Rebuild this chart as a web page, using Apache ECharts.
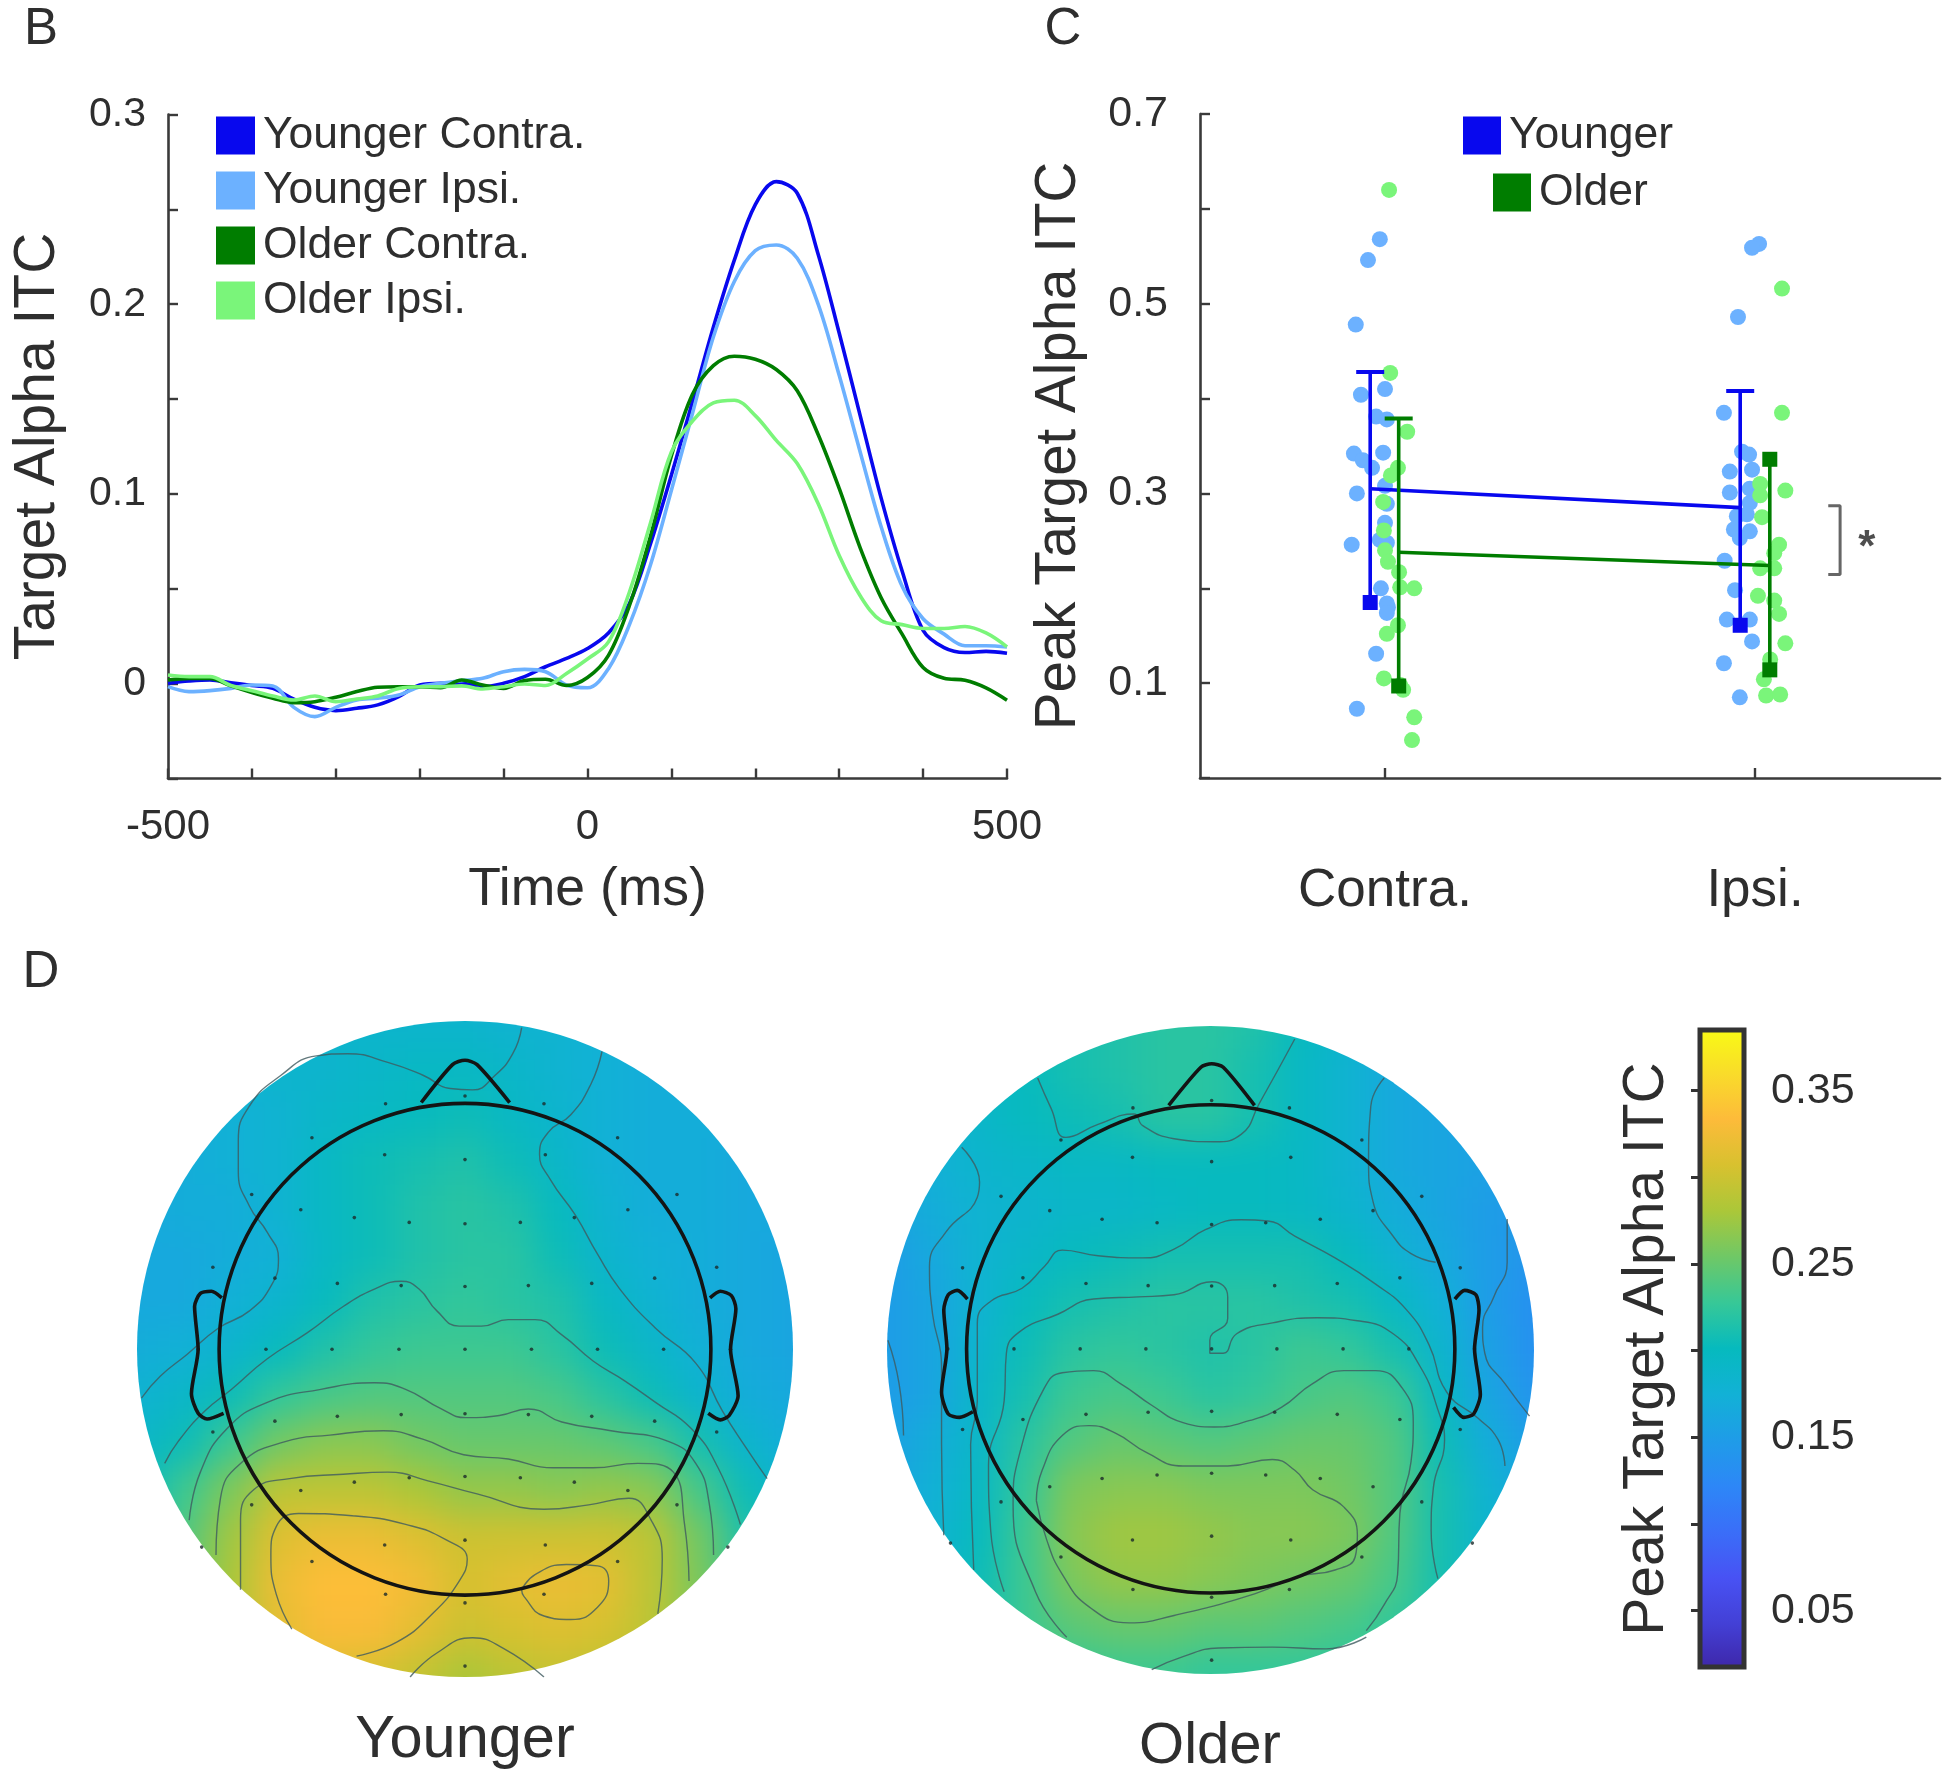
<!DOCTYPE html>
<html><head><meta charset="utf-8">
<script src="https://cdn.jsdelivr.net/npm/echarts@6/dist/echarts.min.js"></script>
<style>
html,body{margin:0;padding:0;background:#fff;width:1950px;height:1786px;overflow:hidden}
#main{position:absolute;left:0;top:0;width:1950px;height:1786px;z-index:5;filter:blur(0.7px)}
.disc{position:absolute;border-radius:50%;overflow:hidden;z-index:1}
.field{position:absolute;filter:blur(17px)}
</style></head><body>
<div class="disc" id="discY" style="left:137px;top:1021px;width:656px;height:656px"><div class="field" id="fieldY"></div></div>
<div class="disc" id="discO" style="left:887px;top:1026px;width:647px;height:648px"><div class="field" id="fieldO"></div></div>
<div id="main"></div>
<script>
const timeMs=[-500,-475,-450,-425,-400,-375,-350,-325,-300,-275,-250,-225,-200,-175,-150,-125,-100,-75,-50,-25,0,25,50,75,100,125,150,175,200,225,250,275,300,325,350,375,400,425,450,475,500];
const youngerContra=[.0002,.0014,.002,.0005,-.001,-.0025,-.0082,-.0125,-.0142,-.013,-.0112,-.0068,-.0007,.0002,.0002,-.0016,.0002,.0037,.0089,.0133,.0185,.0267,.0422,.0736,.110,.1484,.1878,.2232,.2525,.2646,.2585,.2262,.1848,.1413,.0978,.0594,.0281,.019,.0164,.017,.016];
const youngerIpsi=[-.0016,-.0042,-.0037,-.0025,-.0007,-.0012,-.0125,-.0174,-.0125,-.0086,-.0077,-.006,-.0016,.0002,.0016,.0028,.0063,.0075,.0063,-.0007,-.0022,.0079,.0311,.0625,.1019,.1423,.1827,.212,.2282,.2312,.2242,.1999,.1625,.1221,.0827,.0513,.0342,.0261,.02,.02,.0194];
const olderContra=[.0019,.0028,.0028,-.0012,-.0047,-.0077,-.01,-.0095,-.0072,-.0042,-.0019,-.0016,-.0016,-.0021,.0019,-.0007,-.0025,.0016,.0023,-.001,.0032,.0149,.0412,.0776,.1201,.1524,.1676,.1726,.171,.1656,.1544,.1312,.1029,.0716,.0453,.0261,.0085,.0028,.0018,-.0022,-.0087];
const olderIpsi=[.0046,.0037,.0037,-.001,-.0037,-.0065,-.0086,-.0065,-.0095,-.0081,-.0065,-.0025,-.0016,-.0016,-.0012,-.0028,-.0016,-.0002,-.001,.0054,.013,.022,.0483,.0846,.1221,.1383,.148,.1494,.1413,.1282,.116,.0948,.0675,.0463,.0331,.0311,.0291,.0291,.0301,.0267,.0194];

const dotsYoungerContra=[[.986,.568],[.954,.546],[.921,.478],[.935,.404],[1,.410],[.976,.381],[1.005,.378],[.916,.342],[.94,.335],[.995,.343],[.965,.327],[.924,.3],[1,.308],[1.005,.289],[1,.269],[.91,.246],[.986,.251],[1.005,.248],[.989,.2],[1.005,.184],[1.008,.18],[1.005,.174],[.976,.131],[.924,.073]];
const dotsOlderContra=[[1.011,.62],[1.014,.427],[1.06,.365],[1.035,.327],[1.016,.319],[.995,.291],[.997,.261],[1,.24],[1.008,.228],[1.038,.217],[1.041,.201],[1.079,.2],[1.035,.161],[1.005,.152],[.997,.105],[1.049,.093],[1.041,.098],[1.079,.064],[1.073,.04]];
const dotsYoungerIpsi=[[2.011,.563],[1.992,.559],[1.954,.486],[1.916,.385],[1.965,.344],[1.984,.341],[1.932,.323],[1.992,.325],[1.932,.301],[1.986,.305],[1.986,.29],[1.951,.276],[1.978,.278],[1.943,.262],[1.986,.26],[1.959,.253],[1.918,.229],[1.946,.198],[1.924,.167],[1.986,.167],[1.992,.144],[1.916,.121],[1.959,.085]];
const dotsOlderIpsi=[[2.073,.516],[2.073,.385],[2.014,.31],[2.082,.303],[2.014,.298],[2.019,.275],[2.065,.246],[2.052,.237],[2.014,.221],[2.052,.221],[2.008,.192],[2.052,.187],[2.065,.173],[2.082,.142],[2.041,.125],[2.024,.104],[2.03,.087],[2.068,.088]];
const meanYounger=[[.96,.305],[1.96,.285]];
const meanOlder=[[1.037,.238],[2.04,.224]];
const barYoungerContra=[[.96,.428],[.96,.185]];
const barYoungerIpsi=[[1.96,.408],[1.96,.161]];
const barOlderContra=[[1.037,.379],[1.037,.097]];
const barOlderIpsi=[[2.04,.336],[2.04,.114]];
const bracket=[[2.198,.287],[2.23,.287],[2.23,.2145],[2.198,.2145]];
const starPoint=[[2.302,.249]];
const conditionLabels=['Contra.','Ipsi.'];

const fieldYounger=[
[17,17,18,18,18.5,18.5,18.5,18.5,18,18,17.5,17,17,17,17],
[17,17,18,18.5,18.5,19,19.5,19.5,19,18,17.5,17,17,17,17],
[17,17,17.5,18,19,19.5,20,20.5,19.5,18.5,17.5,17,17,17,16.5],
[16.5,17,17.5,18,19.5,20.5,21,21.5,20.5,19,17.5,17,17,16.5,16.5],
[16.5,17,17,18,19.5,20.5,21.5,22,21.5,20,18,17,17,16.5,16.5],
[16.5,16.5,17,17.5,19.5,20.5,21.5,22,22,20.5,18.5,17.5,17,16.5,16],
[16.5,16.5,17.5,18.5,20,21.5,22,22.5,22,21.5,19.5,18,17,16.5,16],
[17,17.5,18.5,20,21.5,22.5,23,23,23,22,20.5,19,17.5,16.5,16],
[18,19,20.5,22.5,23.5,24,24,24,24,23.5,22,20.5,18.5,17,16.5],
[19,20.5,23,25.5,26.5,26.5,25.5,25,25,25,24.5,23.5,21,18.5,17],
[20,23,26,29,29,29,28,27,27,26.5,27,26.5,23.5,20.5,18],
[20.5,24,27.5,31,32,32,31,30,30,30,30,29,25.5,21.5,19],
[21,24.5,28,32,33.5,33.5,32.5,30.5,31.5,32,31.5,29,26,22,20],
[21,24.5,28,31.5,33,33,31.5,30,30.5,31,30.5,29,26,22,20],
[21,24,28,30,31,30.5,29.5,28,29,29.5,29,28,25,22,20]];
const fieldOlder=[
[18,18,19,20,21,21.5,22,22,21.5,20,18.5,17,16.5,16,16],
[18,18,19,20,21,21.5,22,22,21,19.5,18,16.5,16,16,15.5],
[17.5,18,19,20,20.5,21,22,22,21,19.5,18,16.5,16,15.5,15],
[16.5,17.5,18.5,19,19.5,19.5,20,20,20,19.5,18,16.5,16,15.5,15],
[16,17,18,18.5,19,19,19.5,20,20,19.5,18.5,17,16,15,14.5],
[15,16.5,18,19,20,20.5,21,21,21,21,20,18,16.5,15,14],
[15,16,18,20,21,21.5,22,22,22,21.5,21,19.5,17.5,15,13.5],
[15,16,18.5,20.5,22,22.5,22,21.5,22,23,22.5,21,18.5,15.5,13.5],
[15,16,19,21,23,23.5,23,22,22.5,23.5,24,23,19.5,16,14],
[15.5,17,19,22,24,25,24.5,24,24.5,25,25,24,20.5,17,15],
[16,17.5,19.5,22.5,26,26.5,26.5,26,26,26,25.5,24,21,18,16],
[16.5,18,20,23,26.5,27.5,27.5,27,26.5,26.5,26,24,21,18.5,17],
[17,18.5,20.5,23,26,27,27,26.5,26,25.5,25,23.5,21,18.5,17],
[17,19,21,23,24.5,25,25,24.5,24.5,24,23.5,22.5,21,19,17],
[17,19,21,22,22.5,23,23,22.5,22.5,22.5,22,21.5,20.5,19,17]];

const contoursYounger=[
[[900,40],[880,100],[840,150],[790,183],[740,180],[680,150],[600,120],[510,100],[440,105],[360,150],[290,220],[265,300],[265,370],[290,450],[330,510],[355,570],[340,630],[290,690],[220,730],[150,790],[90,840],[48,890]],
[[1080,95],[1055,170],[1010,240],[960,280],[940,330],[965,390],[1020,470],[1070,560],[1120,640],[1200,730],[1290,810],[1350,920],[1400,1000],[1450,1075]],
[[100,1040],[130,990],[190,920],[250,870],[330,800],[420,740],[500,680],[570,640],[630,622],[670,640],[710,690],[760,725],[810,725],[870,710],[930,710],[990,745],[1060,805],[1130,850],[1200,900],[1280,960],[1340,1050],[1390,1180]],
[[155,1170],[180,1060],[240,960],[330,900],[450,870],[570,855],[640,870],[720,915],[775,935],[850,930],[915,915],[990,945],[1100,965],[1230,990],[1290,1040],[1320,1130],[1330,1250]],
[[215,1250],[225,1120],[270,1040],[370,990],[470,975],[590,965],[680,985],[770,1020],[870,1030],[970,1050],[1060,1050],[1160,1040],[1240,1060],[1265,1180],[1275,1310]],
[[270,1330],[270,1170],[300,1100],[380,1075],[500,1065],[600,1060],[690,1080],[800,1110],[950,1145],[1050,1135],[1140,1120],[1190,1170],[1215,1260],[1205,1385]],
[[530,1482],[620,1450],[700,1385],[760,1310],[778,1260],[730,1215],[640,1180],[520,1160],[400,1155],[350,1185],[338,1250],[350,1340],[385,1420]],
[[900,1330],[930,1295],[1000,1272],[1070,1275],[1095,1310],[1070,1370],[1010,1398],[950,1390],[905,1345],[900,1330]],
[[650,1530],[710,1475],[790,1440],[860,1465],[950,1530]]];
const contoursOlder=[
[[375,155],[405,225],[438,292],[510,262],[590,238],[610,265],[680,295],[770,302],[830,285],[870,215],[950,65]],
[[205,315],[245,395],[240,430],[170,510],[133,590],[140,700],[160,820],[160,1000],[165,1210]],
[[40,760],[65,860],[75,980]],
[[1150,155],[1120,220],[1115,350],[1125,440],[1170,520],[1210,560],[1265,580]],
[[1425,480],[1425,580],[1395,660],[1370,730],[1375,790],[1420,860],[1475,935]],
[[232,1290],[225,1000],[240,900],[240,720],[270,670],[340,640],[390,590],[430,552],[510,565],[610,570],[680,550],[750,505],[830,482],[890,485],[950,520],[1040,570],[1130,630],[1200,690],[1250,770],[1290,880],[1360,940],[1405,990],[1420,1050]],
[[300,1340],[270,1200],[265,1050],[300,900],[305,790],[335,740],[420,700],[500,665],[600,660],[680,655],[765,625],[800,660],[800,710],[760,760],[760,790],[790,790],[820,745],[900,720],[1000,708],[1090,715],[1170,745],[1230,820],[1270,920],[1285,990],[1260,1100],[1255,1200],[1270,1310]],
[[440,1445],[370,1340],[320,1140],[335,1020],[390,870],[430,835],[500,830],[560,860],[630,910],[700,950],[770,960],[850,945],[920,915],[990,860],[1060,830],[1130,830],[1190,870],[1215,950],[1210,1040],[1185,1160],[1180,1300],[1150,1370],[1110,1430]],
[[372,1130],[385,1060],[430,980],[490,957],[550,975],[620,1020],[700,1050],[800,1050],[900,1035],[950,1060],[990,1105],[1060,1145],[1090,1210],[1085,1260],[1040,1290],[960,1305],[860,1345],[680,1395],[580,1412],[490,1375],[430,1300],[395,1220],[372,1130]],
[[630,1520],[700,1490],[780,1470],[900,1468],[1020,1472],[1110,1445]]];
const electrodesYounger=[[595,215],[773,197],[950,215],[430,293],[1115,293],[593,332],[773,343],[953,332],[295,423],[1248,423],[405,458],[525,476],[648,487],[773,490],[897,487],[1018,476],[1138,458],[208,590],[1337,590],[347,615],[487,627],[630,632],[773,634],[915,632],[1057,627],[1198,615],[175,778],[327,778],[475,778],[625,778],[773,778],[922,778],[1070,778],[1218,778],[1368,778],[347,943],[487,932],[630,928],[773,926],[915,928],[1057,932],[1198,943],[208,968],[1337,968],[405,1102],[525,1083],[648,1073],[773,1070],[897,1073],[1018,1083],[1138,1102],[295,1135],[1248,1135],[593,1227],[773,1216],[953,1227],[183,1232],[1362,1232],[430,1265],[1115,1265],[595,1340],[773,1360],[950,1340],[773,1505]];
const electrodesOlder=[[588,224],[764,207],[938,224],[427,298],[1100,298],[587,338],[764,348],[941,338],[293,428],[1234,428],[402,461],[519,481],[642,489],[764,493],[885,489],[1007,481],[1125,461],[207,593],[1320,593],[342,616],[483,629],[622,634],[764,635],[905,634],[1045,629],[1185,616],[174,780],[322,780],[470,780],[617,780],[764,780],[910,780],[1058,780],[1205,780],[1352,780],[342,943],[483,931],[622,926],[764,924],[905,926],[1045,931],[1185,943],[207,966],[1320,966],[402,1098],[519,1079],[642,1071],[764,1067],[885,1071],[1007,1079],[1125,1098],[293,1133],[1234,1133],[587,1221],[764,1212],[941,1221],[180,1228],[1347,1228],[427,1260],[1100,1260],[588,1335],[764,1353],[938,1335],[764,1498]];
const headYounger=[[773,778,551]];
const headOlder=[[762,780,546]];
const outlineYounger=[
[[675,212],[745,125],[773,115],[800,125],[873,212]],
[[228,660],[205,645],[180,650],[167,680],[175,778],[160,880],[175,925],[195,938],[232,925]],
[[1322,660],[1345,645],[1370,655],[1380,685],[1368,778],[1385,885],[1365,930],[1345,940],[1318,925]]];
const outlineOlder=[
[[668,218],[740,130],[764,122],[790,130],[860,218]],
[[218,665],[195,645],[175,655],[165,690],[172,780],[160,880],[175,930],[200,938],[230,925]],
[[1308,665],[1330,645],[1355,655],[1362,690],[1352,780],[1365,885],[1350,930],[1328,938],[1305,915]]];

const parula=['#3e26a8','#4340d6','#4852f4','#3a6ef8','#2d87f7','#1f9ce8','#12b1d6','#06babe','#37c897','#6fc866','#abc739','#d8c12f','#fdbb3a','#f9dc2a','#f9fb14'];
const cbarRange=[0.0175,0.385];
const cbarTicks=[.05,.1,.15,.2,.25,.3,.35];
const cbarLabels=[.05,.15,.25,.35];

const FONT='"Liberation Sans", Arial, sans-serif', INK='#2e2e2e', AX='#3a3a3a';
const C={yc:'#0808ee',yi:'#6cb1ff',oc:'#007d00',oi:'#7af57a'};

function drawField(id,rows,size){
  const pitch=size/14, extra=2, n=rows.length+2*extra, pad=(extra+0.5)*pitch, total=size+2*pad;
  const el=document.getElementById(id);
  el.style.cssText='left:'+(-pad)+'px;top:'+(-pad)+'px;width:'+total+'px;height:'+total+'px';
  const cl=(v)=>Math.max(0,Math.min(rows.length-1,v));
  const cells=[];
  for(let i=0;i<n;i++)for(let j=0;j<n;j++)cells.push([j,i,rows[cl(i-extra)][cl(j-extra)]/100]);
  const names=Array.from({length:n},(_,k)=>String(k));
  const ch=echarts.init(el);
  ch.setOption({animation:false,
    grid:{left:0,right:0,top:0,bottom:0},
    xAxis:{type:'category',data:names,show:false},
    yAxis:{type:'category',data:names,show:false,inverse:true},
    visualMap:{show:false,min:cbarRange[0],max:cbarRange[1],inRange:{color:parula},seriesIndex:0},
    series:[{type:'heatmap',data:cells,silent:true,itemStyle:{borderWidth:0}}]});
}
drawField('fieldY',fieldYounger,656);
drawField('fieldO',fieldOlder,647);

const zip=(xs,ys)=>xs.map((x,i)=>[x,ys[i]]);
const tb=(g,name,arr,color)=>({type:'line',name,xAxisIndex:0,yAxisIndex:0,data:zip(timeMs,arr),smooth:0.35,showSymbol:false,silent:true,lineStyle:{color,width:3.6},itemStyle:{color},z:3});
const dots=(arr,color)=>({type:'scatter',xAxisIndex:1,yAxisIndex:1,data:arr,symbolSize:16,silent:true,itemStyle:{color,opacity:1},z:2});
const ln=(name,arr,color)=>({type:'line',name,xAxisIndex:1,yAxisIndex:1,data:arr,showSymbol:false,silent:true,lineStyle:{color,width:3.6},itemStyle:{color},z:4});
const ebar=(arr,color,topSquare)=>({type:'line',xAxisIndex:1,yAxisIndex:1,silent:true,lineStyle:{color,width:3.6},itemStyle:{color},z:4,showSymbol:true,
  data:[{value:arr[0],symbol:'rect',symbolSize:topSquare?[15,15]:[28,4]},{value:arr[1],symbol:'rect',symbolSize:[15,15]}]});
const topo=(xi,contours,outline,elec,head)=>[
  ...contours.map(c=>({type:'line',xAxisIndex:xi,yAxisIndex:xi,data:c,smooth:0.5,showSymbol:false,silent:true,lineStyle:{color:'#3f5a5f',width:1.4,opacity:.8},z:2})),
  {type:'scatter',xAxisIndex:xi,yAxisIndex:xi,data:elec,symbolSize:3.6,silent:true,itemStyle:{color:'#1c2b2b'},z:3},
  ...outline.map(c=>({type:'line',xAxisIndex:xi,yAxisIndex:xi,data:c,smooth:0.25,showSymbol:false,silent:true,clip:false,lineStyle:{color:'#141414',width:3.6},z:4})),
  {type:'custom',xAxisIndex:xi,yAxisIndex:xi,data:head,silent:true,clip:false,z:5,renderItem:(p,api)=>{
    const c=api.coord([api.value(0),api.value(1)]), r=api.size([api.value(2),0])[0];
    return {type:'circle',shape:{cx:c[0],cy:c[1],r},style:{fill:'none',stroke:'#141414',lineWidth:3.6}};
  }}
];
const hiddenX=(g,a,b)=>({type:'value',gridIndex:g,min:a,max:b,show:false});
const hiddenY=(g,a,b)=>({type:'value',gridIndex:g,min:a,max:b,show:false,inverse:true});
const axLine={show:true,onZero:false,lineStyle:{color:AX,width:2.6}};
const axTick=(vals)=>Object.assign({show:true,inside:true,length:10,lineStyle:{color:AX,width:2.4}},vals?{customValues:vals}:{});
const txt=(text,x,y,size,extra)=>Object.assign({type:'text',x,y,silent:true,style:{text,font:size+'px '+FONT,fill:INK,align:'center',verticalAlign:'middle'}},extra||{});
const legendText={color:INK,fontSize:44.5,fontFamily:FONT,padding:[0,0,0,3]};

const option={animation:false,textStyle:{fontFamily:FONT},
  grid:[
    {left:168,top:114.5,width:839,height:664},
    {left:1200,top:114,width:740,height:664},
    {left:137,top:1021,width:656,height:656},
    {left:887,top:1026,width:647,height:648},
    {left:1700,top:1030,width:44,height:637}
  ],
  xAxis:[
    {type:'value',gridIndex:0,min:-500,max:500,interval:100,splitLine:{show:false},axisLine:axLine,axisTick:axTick(),
      axisLabel:{customValues:[-500,0,500],color:INK,fontSize:42,margin:28,fontFamily:FONT,showMinLabel:true,showMaxLabel:true},
      name:'Time (ms)',nameLocation:'middle',nameGap:85,nameTextStyle:{color:INK,fontSize:53.5,fontFamily:FONT}},
    {type:'value',gridIndex:1,min:0.5,max:2.5,splitLine:{show:false},axisLine:axLine,axisTick:axTick([1,2]),
      axisLabel:{customValues:[1,2],color:INK,fontSize:53,margin:87,fontFamily:FONT,formatter:v=>conditionLabels[Math.round(v)-1]}},
    hiddenX(2,38,1508),hiddenX(3,38,1485),
    {type:'value',gridIndex:4,min:0,max:1,show:false}
  ],
  yAxis:[
    {type:'value',gridIndex:0,min:-0.05,max:0.3,interval:0.05,splitLine:{show:false},axisLine:axLine,axisTick:axTick(),
      axisLabel:{customValues:[0,.1,.2,.3],color:INK,fontSize:41,margin:22,fontFamily:FONT,formatter:v=>v===0?'0':v.toFixed(1),showMaxLabel:true},
      name:'Target Alpha ITC',nameLocation:'middle',nameGap:101,nameTextStyle:{color:INK,fontSize:57,fontFamily:FONT}},
    {type:'value',gridIndex:1,min:0,max:0.7,interval:0.1,splitLine:{show:false},axisLine:axLine,axisTick:axTick(),
      axisLabel:{customValues:[.1,.3,.5,.7],color:INK,fontSize:43,margin:32,fontFamily:FONT,formatter:v=>v.toFixed(1),showMaxLabel:true},
      name:'Peak Target Alpha ITC',nameLocation:'middle',nameGap:112,nameTextStyle:{color:INK,fontSize:56.5,fontFamily:FONT}},
    hiddenY(2,25,1530),hiddenY(3,35,1530),
    {type:'value',gridIndex:4,position:'right',min:cbarRange[0],max:cbarRange[1],z:6,splitLine:{show:false},axisLine:{show:false},
      axisTick:Object.assign(axTick(cbarTicks),{length:9,lineStyle:{color:'#333',width:3}}),
      axisLabel:{customValues:cbarLabels,color:INK,fontSize:43,margin:27,fontFamily:FONT,formatter:v=>v.toFixed(2)}}
  ],
  legend:[
    {left:211,top:108,orient:'vertical',icon:'rect',itemWidth:39,itemHeight:38,itemGap:10,selectedMode:false,textStyle:legendText,
      data:['Younger Contra.','Younger Ipsi.','Older Contra.','Older Ipsi.']},
    {left:1458,top:108,icon:'rect',itemWidth:38,itemHeight:38,selectedMode:false,textStyle:legendText,data:['Younger']},
    {left:1488,top:165,icon:'rect',itemWidth:38,itemHeight:38,selectedMode:false,textStyle:legendText,data:['Older']}
  ],
  graphic:[
    txt('B',41,30,51),txt('C',1063,30,51),txt('D',41,973,51),
    txt('Younger',465,1741,59.5),txt('Older',1210,1747,58),
    txt('Peak Target Alpha ITC',1647,1349,57,{rotation:Math.PI/2})
  ],
  series:[
    tb(0,'Younger Contra.',youngerContra,C.yc),
    tb(0,'Younger Ipsi.',youngerIpsi,C.yi),
    tb(0,'Older Contra.',olderContra,C.oc),
    tb(0,'Older Ipsi.',olderIpsi,C.oi),
    dots(dotsYoungerContra,C.yi),dots(dotsYoungerIpsi,C.yi),
    dots(dotsOlderContra,C.oi),dots(dotsOlderIpsi,C.oi),
    ln('Younger',meanYounger,C.yc),ln('Older',meanOlder,C.oc),
    ebar(barYoungerContra,C.yc),ebar(barYoungerIpsi,C.yc),
    ebar(barOlderContra,C.oc),ebar(barOlderIpsi,C.oc,true),
    {type:'line',xAxisIndex:1,yAxisIndex:1,data:bracket,showSymbol:false,silent:true,lineStyle:{color:'#666',width:3},z:3},
    {type:'scatter',xAxisIndex:1,yAxisIndex:1,data:starPoint,symbolSize:1,silent:true,itemStyle:{color:'transparent'},
      label:{show:true,position:'inside',formatter:'*',fontSize:44,fontWeight:'bold',color:'#222',fontFamily:FONT,offset:[0,7]},z:3},
    ...topo(2,contoursYounger,outlineYounger,electrodesYounger,headYounger),
    ...topo(3,contoursOlder,outlineOlder,electrodesOlder,headOlder),
    {type:'custom',xAxisIndex:4,yAxisIndex:4,data:[[0,cbarRange[0],cbarRange[1]]],silent:true,clip:false,z:3,renderItem:(p,api)=>{
      const a=api.coord([0,api.value(2)]), b=api.coord([1,api.value(1)]);
      return {type:'rect',shape:{x:a[0],y:a[1],width:b[0]-a[0],height:b[1]-a[1]},
        style:{stroke:'#333',lineWidth:5,fill:new echarts.graphic.LinearGradient(0,1,0,0,parula.map((c,i)=>({offset:i/(parula.length-1),color:c})))}};
    }}
  ]
};
echarts.init(document.getElementById('main')).setOption(option);
</script></body></html>
